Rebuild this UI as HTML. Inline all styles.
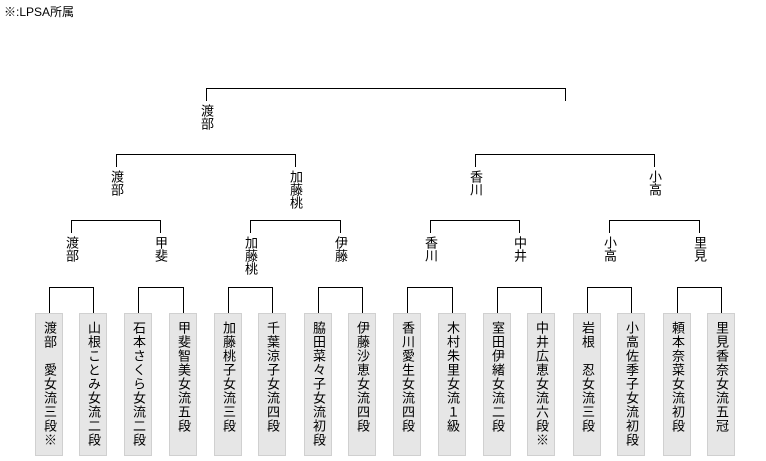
<!DOCTYPE html>
<html><head><meta charset="utf-8"><style>
body{margin:0;width:766px;height:461px;background:#fff;position:relative;overflow:hidden;font-family:"Liberation Sans","Noto Sans CJK JP",sans-serif;color:#000}
.h{position:absolute;height:1px;background:#000}
.v{position:absolute;width:1px;background:#000}
.l{position:absolute;writing-mode:vertical-rl;font-size:13px;line-height:14px;width:14px;text-align:start}
.b{position:absolute;top:313px;width:26px;height:141px;background:#e6e6e6;border:1px solid #d0d0d0}
.b span{position:absolute;left:6px;top:7px;writing-mode:vertical-rl;font-size:13px;line-height:14px;letter-spacing:1px}
</style></head><body>
<div style="position:absolute;left:4px;top:3px;font-size:12px">※:LPSA所属</div>
<div id="c"></div>
<script>
var c=document.getElementById('c'),h='';
function br(a,b,y,d){h+='<div class="h" style="left:'+a+'px;top:'+y+'px;width:'+(b-a+1)+'px"></div>';
h+='<div class="v" style="left:'+a+'px;top:'+y+'px;height:'+d+'px"></div>';
h+='<div class="v" style="left:'+b+'px;top:'+y+'px;height:'+d+'px"></div>';}
function lb(x,y,t){h+='<div class="l" style="left:'+(x-7)+'px;top:'+y+'px">'+t+'</div>';}
br(206,565,88,13);lb(206,104,'渡部');
br(116,295,154,13);br(475,654,154,13);
lb(116,170,'渡部');lb(295,170,'加藤桃');lb(475,170,'香川');lb(654,170,'小高');
var l3=[71,160,250,340,430,519,609,699],n3=['渡部','甲斐','加藤桃','伊藤','香川','中井','小高','里見'];
for(var i=0;i<4;i++){br(l3[2*i],l3[2*i+1],220,13);}
for(var i=0;i<8;i++){lb(l3[i],236,n3[i]);}
var cs=[49,93,138,183,228,272,318,362,407,452,497,541,587,631,677,721];
var ns=['渡部　愛女流三段※','山根ことみ女流二段','石本さくら女流二段','甲斐智美女流五段','加藤桃子女流三段','千葉涼子女流四段','脇田菜々子女流初段','伊藤沙恵女流四段','香川愛生女流四段','木村朱里女流１級','室田伊緒女流二段','中井広恵女流六段※','岩根　忍女流三段','小高佐季子女流初段','頼本奈菜女流初段','里見香奈女流五冠'];
for(var i=0;i<8;i++){br(cs[2*i],cs[2*i+1],287,26);}
for(var i=0;i<16;i++){h+='<div class="b" style="left:'+(cs[i]-14)+'px"><span>'+ns[i]+'</span></div>';}
c.innerHTML=h;
</script>
</body></html>
